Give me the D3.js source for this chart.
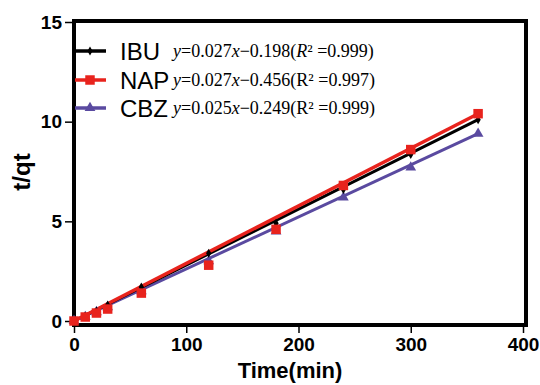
<!DOCTYPE html>
<meta charset="utf-8">
<style>
    body { margin: 0; background: #fff; }
    .tick text { font-family: "Liberation Sans", Arial, sans-serif; font-weight: bold; font-size: 19px; }
</style>
<body>
<script src="https://cdn.jsdelivr.net/npm/d3@7"></script>
<script>
    // sampling times (min)
    var times = [0, 10, 20, 30, 60, 120, 180, 240, 300, 360]
    // t/qt values
    var ibu = [0, 0.25, 0.5, 0.8, 1.7, 3.4, 4.9, 6.6, 8.35, 10.1]
    var nap = [0, 0.2, 0.4, 0.6, 1.4, 2.8, 4.6, 6.8, 8.6, 10.4]
    var cbz = [0, 0.2, 0.45, 0.7, 1.5, 3.0, 4.5, 6.2, 7.7, 9.4]
    // straight fitted lines: [t0, v0, t1, v1]
    var ibuFit = [0, 0, 360, 10.1]
    var napFit = [0, 0, 360, 10.4]
    var cbzFit = [0, 0, 360, 9.4]
    var names = ["IBU", "NAP", "CBZ"]
    var eqs = [
        {a: "0.027", b: "0.198", r2: "0.999", italicR: true},
        {a: "0.027", b: "0.456", r2: "0.997", italicR: false},
        {a: "0.025", b: "0.249", r2: "0.999", italicR: false}
    ]
    var xTicks = [0, 100, 200, 300, 400]
    var yTicks = [0, 5, 10, 15]

    var width = 540, height = 385
    var svg = d3.select("body").append("svg")
        .attr("width", width)
        .attr("height", height)

    var x = d3.scaleLinear().domain([0, 400]).range([74, 523])
    var y = d3.scaleLinear().domain([0, 15]).range([321, 22])

    var series = [
        {name: "CBZ", vals: cbz, fit: cbzFit, color: "#5a4aa0", shape: d3.symbolTriangle, size: 50},
        {name: "IBU", vals: ibu, fit: ibuFit, color: "#000000", shape: d3.symbolDiamond, size: 24},
        {name: "NAP", vals: nap, fit: napFit, color: "#e8231d", shape: d3.symbolSquare, size: 90}
    ]

    // frame
    svg.append("rect")
        .attr("x", 74).attr("y", 21)
        .attr("width", 452).attr("height", 304)
        .attr("fill", "none").attr("stroke", "#000").attr("stroke-width", 4)

    // axes
    var xAxis = svg.append("g")
        .attr("transform", "translate(0,327)")
        .call(d3.axisBottom(x).tickValues(xTicks).tickSize(6).tickPadding(5))
    xAxis.select(".domain").remove()
    xAxis.selectAll("line").attr("stroke-width", 1.5)

    var yAxis = svg.append("g")
        .attr("transform", "translate(72,0)")
        .call(d3.axisLeft(y).tickValues(yTicks).tickSize(7).tickPadding(3))
    yAxis.select(".domain").remove()
    yAxis.selectAll("line").attr("stroke-width", 1.5)

    // fitted lines
    series.forEach(function(s) {
        svg.append("line")
            .attr("x1", x(s.fit[0])).attr("y1", y(s.fit[1]))
            .attr("x2", x(s.fit[2])).attr("y2", y(s.fit[3]))
            .attr("stroke", s.color)
            .attr("stroke-width", s.name == "NAP" ? 3.5 : 3)
    })

    // markers
    series.forEach(function(s) {
        svg.selectAll(null)
            .data(s.vals)
            .enter().append("path")
            .attr("d", d3.symbol().type(s.shape).size(s.size))
            .attr("transform", function(d, i) { return "translate(" + x(times[i]) + "," + y(d) + ")" })
            .attr("fill", s.color)
    })

    // legend
    var legendY = [51, 80, 108]
    names.forEach(function(n, i) {
        var s = series.filter(function(d) { return d.name == n })[0]
        var g = svg.append("g")
        g.append("line")
            .attr("x1", 75).attr("x2", 106)
            .attr("y1", legendY[i]).attr("y2", legendY[i])
            .attr("stroke", s.color).attr("stroke-width", 3.5)
        g.append("path")
            .attr("d", d3.symbol().type(s.shape).size(s.size))
            .attr("transform", "translate(90," + legendY[i] + ")")
            .attr("fill", s.color)
        g.append("text")
            .attr("x", 120).attr("y", legendY[i] + 9)
            .attr("font-family", "Liberation Sans, Arial, sans-serif")
            .attr("font-size", 24)
            .text(n)

        var e = eqs[i]
        var t = g.append("text")
            .attr("x", 173).attr("y", legendY[i] + 6)
            .attr("font-family", "Liberation Serif, Times New Roman, serif")
            .attr("font-size", 18)
        t.append("tspan").attr("font-style", "italic").text("y")
        t.append("tspan").text("=" + e.a)
        t.append("tspan").attr("font-style", "italic").text("x")
        t.append("tspan").text("\u2212" + e.b + "(")
        t.append("tspan").attr("font-style", e.italicR ? "italic" : "normal").text("R")
        t.append("tspan").text("\u00b2 =" + e.r2 + ")")
    })

    // axis titles
    svg.append("text")
        .attr("x", 290).attr("y", 378)
        .attr("text-anchor", "middle")
        .attr("font-family", "Liberation Sans, Arial, sans-serif")
        .attr("font-weight", "bold").attr("font-size", 22)
        .text("Time(min)")

    svg.append("text")
        .attr("transform", "translate(30,172) rotate(-90)")
        .attr("text-anchor", "middle")
        .attr("font-family", "Liberation Sans, Arial, sans-serif")
        .attr("font-weight", "bold").attr("font-size", 24)
        .text("t/qt")
</script>
</body>
